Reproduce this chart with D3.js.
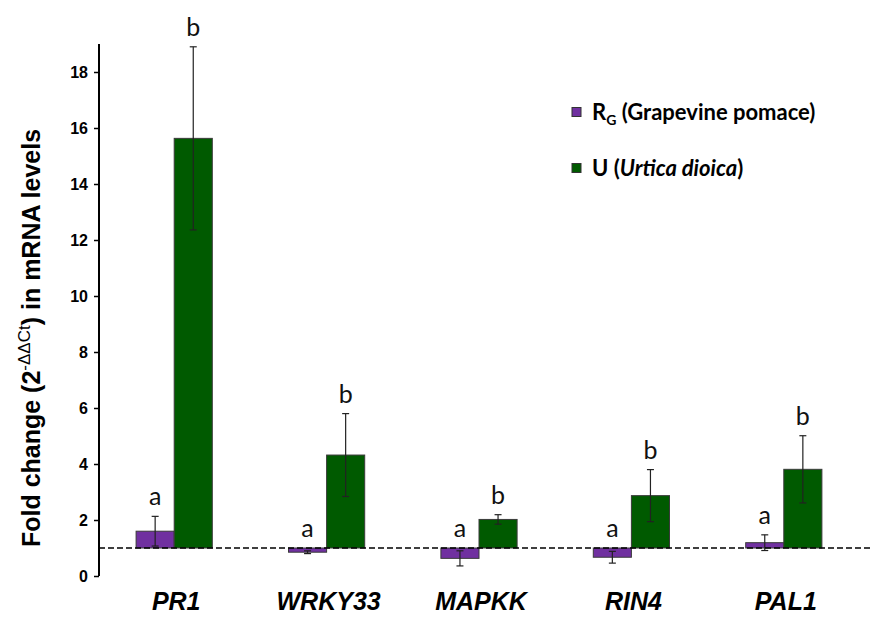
<!DOCTYPE html>
<html>
<head>
<meta charset="utf-8">
<script src="https://cdn.jsdelivr.net/npm/d3@7"></script>
<style>
  html, body { margin: 0; padding: 0; background: #fff; }
  svg { display: block; }
</style>
</head>
<body>
<svg id="chart" width="871" height="617"></svg>
<script>
// Gene expression: fold change relative to control (baseline = 1)
const genes = ["PR1", "WRKY33", "MAPKK", "RIN4", "PAL1"];
const seriesNames = ["RG", "U"];
const rgValues = [1.60, 0.85, 0.63, 0.67, 1.19];
const rgErrors = [0.53, 0.05, 0.27, 0.21, 0.28];
const uValues = [15.63, 4.32, 2.02, 2.87, 3.81];
const uErrors = [3.27, 1.48, 0.17, 0.93, 1.20];
const rgLetters = ["a", "a", "a", "a", "a"];
const uLetters = ["b", "b", "b", "b", "b"];
const yTicks = [0, 2, 4, 6, 8, 10, 12, 14, 16, 18];
const baselineValue = 1;

const colors = { RG: "#7030a0", U: "#005a00" };

const svg = d3.select("#chart");
const margin = { left: 99, right: 11, top: 44, bottom: 41 };
const W = 871, H = 617;

const x = d3.scaleBand()
  .domain(genes)
  .range([margin.left - 1, 860])
  .paddingInner(0.5)
  .paddingOuter(0.25);

const xs = d3.scaleBand()
  .domain(seriesNames)
  .range([0, x.bandwidth()]);

const y = d3.scaleLinear()
  .domain([0, 19])
  .range([H - margin.bottom, margin.top]);

const rows = genes.map((g, i) => ({
  gene: g,
  bars: [
    { key: "RG", value: rgValues[i], err: rgErrors[i], letter: rgLetters[i] },
    { key: "U", value: uValues[i], err: uErrors[i], letter: uLetters[i] }
  ]
}));

// Y axis
const yAxis = d3.axisLeft(y).tickValues(yTicks).tickSize(5).tickPadding(6);
const yg = svg.append("g")
  .attr("transform", `translate(${margin.left},0)`)
  .call(yAxis);
yg.select(".domain").attr("stroke", "#000").attr("stroke-width", 2)
  .attr("d", `M-0.0,${y(19)}V${y(0)}`);
yg.selectAll(".tick line").attr("stroke", "#000").attr("stroke-width", 1.5);
yg.selectAll(".tick text")
  .attr("fill", "#000")
  .style("font-family", "Liberation Sans, Arial, sans-serif")
  .style("font-weight", "bold")
  .style("font-size", "16px");

// Y axis title
const yTitle = svg.append("text")
  .attr("transform", `translate(40,338) rotate(-90)`)
  .attr("text-anchor", "middle")
  .style("font-family", "Liberation Sans, Arial, sans-serif")
  .style("font-size", "25px")
  .style("font-weight", "bold")
  .attr("fill", "#000");
yTitle.append("tspan").text("Fold change (2");
yTitle.append("tspan").attr("dy", -10).style("font-size", "17px")
  .style("font-weight", "normal").text("-ΔΔCt");
yTitle.append("tspan").attr("dy", 10).text(") in mRNA levels");

// Bars (drawn from the baseline value of 1)
const groups = svg.append("g").selectAll("g.gene")
  .data(rows)
  .join("g")
  .attr("class", "gene")
  .attr("transform", d => `translate(${x(d.gene)},0)`);

groups.selectAll("rect")
  .data(d => d.bars)
  .join("rect")
  .attr("x", d => xs(d.key))
  .attr("width", xs.bandwidth())
  .attr("y", d => y(Math.max(d.value, baselineValue)))
  .attr("height", d => Math.abs(y(d.value) - y(baselineValue)))
  .attr("fill", d => colors[d.key])
  .attr("stroke", "#3a3a3a")
  .attr("stroke-width", 1);

// Error bars
const eb = groups.selectAll("g.err")
  .data(d => d.bars)
  .join("g")
  .attr("class", "err")
  .attr("stroke", "#222")
  .attr("stroke-width", 1.2);
eb.append("line")
  .attr("x1", d => xs(d.key) + xs.bandwidth() / 2)
  .attr("x2", d => xs(d.key) + xs.bandwidth() / 2)
  .attr("y1", d => y(d.value + d.err))
  .attr("y2", d => y(d.value - d.err));
[1, -1].forEach(s => {
  eb.append("line")
    .attr("x1", d => xs(d.key) + xs.bandwidth() / 2 - 3.5)
    .attr("x2", d => xs(d.key) + xs.bandwidth() / 2 + 3.5)
    .attr("y1", d => y(d.value + s * d.err))
    .attr("y2", d => y(d.value + s * d.err));
});

// Significance letters
groups.selectAll("text.letter")
  .data(d => d.bars)
  .join("text")
  .attr("class", "letter")
  .attr("x", d => xs(d.key) + xs.bandwidth() / 2)
  .attr("y", d => y(Math.max(d.value + d.err, baselineValue)) - 11)
  .attr("text-anchor", "middle")
  .style("font-family", "Lato, Open Sans, sans-serif")
  .style("font-size", "25px")
  .attr("fill", "#111")
  .text(d => d.letter);

// Dashed reference line at fold change = 1
svg.append("line")
  .attr("x1", margin.left)
  .attr("x2", W)
  .attr("y1", y(baselineValue))
  .attr("y2", y(baselineValue))
  .attr("stroke", "#000")
  .attr("stroke-width", 1.6)
  .attr("stroke-dasharray", "6,3");

// Category labels
svg.append("g").selectAll("text")
  .data(genes)
  .join("text")
  .attr("x", d => x(d) + x.bandwidth() / 2 + 2)
  .attr("y", 610)
  .attr("text-anchor", "middle")
  .style("font-family", "Liberation Sans, Arial, sans-serif")
  .style("font-size", "25px")
  .style("font-weight", "bold")
  .style("font-style", "italic")
  .attr("fill", "#000")
  .text(d => d);

// Legend
const legend = svg.append("g").attr("transform", "translate(572,0)");
const legendRows = [
  { key: "RG", cy: 112 },
  { key: "U", cy: 168 }
];
legend.selectAll("rect")
  .data(legendRows)
  .join("rect")
  .attr("x", 0)
  .attr("y", d => d.cy - 4.5)
  .attr("width", 9)
  .attr("height", 9)
  .attr("fill", d => colors[d.key])
  .attr("stroke", "#333")
  .attr("stroke-width", 1);

const legendFont = "Lato, Open Sans, sans-serif";
const t1 = legend.append("text")
  .attr("x", 20).attr("y", 112 + 8)
  .style("font-family", legendFont)
  .style("font-size", "22px")
  .style("font-weight", "bold")
  .attr("fill", "#000");
t1.append("tspan").text("R");
t1.append("tspan").attr("dy", 5).style("font-size", "14px").text("G");
t1.append("tspan").attr("dy", -5).text(" (Grapevine pomace)");

const t2 = legend.append("text")
  .attr("x", 20).attr("y", 168 + 8)
  .style("font-family", legendFont)
  .style("font-size", "22px")
  .style("font-weight", "bold")
  .attr("fill", "#000");
t2.append("tspan").text("U (");
t2.append("tspan").style("font-style", "italic").text("Urtica dioica");
t2.append("tspan").text(")");
</script>
</body>
</html>
